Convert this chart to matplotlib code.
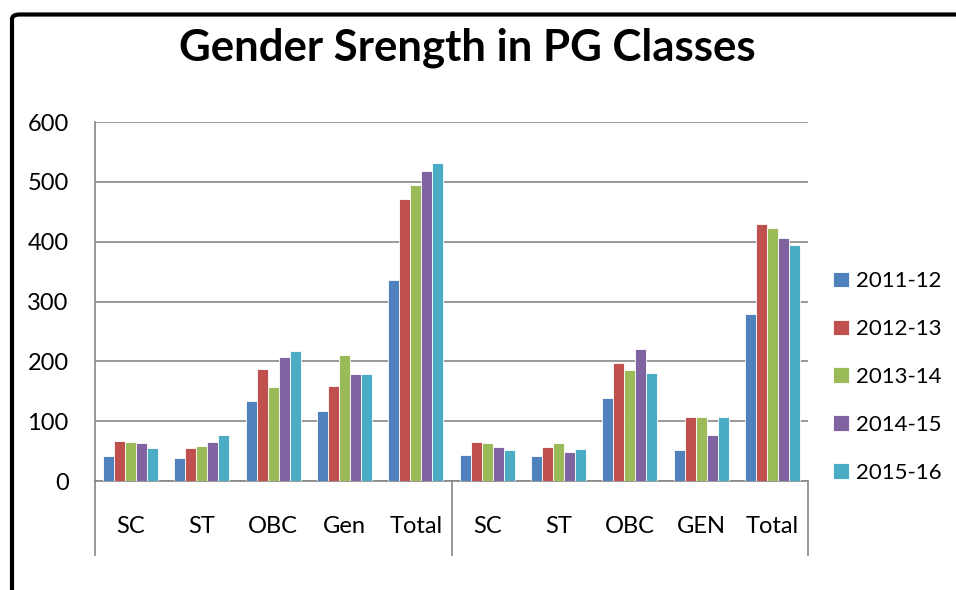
import matplotlib
matplotlib.use("Agg")
import matplotlib.pyplot as plt
from matplotlib.patches import FancyBboxPatch
import matplotlib.transforms as mtransforms
import numpy as np

plt.rcParams['font.family'] = ['Lato', 'DejaVu Sans']

categories = ["SC", "ST", "OBC", "Gen", "Total", "SC", "ST", "OBC", "GEN", "Total"]
series_names = ["2011-12", "2012-13", "2013-14", "2014-15", "2015-16"]
v2011 = [42, 39, 134, 117, 336, 43, 42, 139, 51, 279]
v2012 = [67, 55, 188, 159, 472, 65, 57, 197, 107, 429]
v2013 = [65, 58, 157, 211, 494, 63, 64, 186, 107, 423]
v2014 = [64, 66, 207, 178, 518, 56, 49, 220, 77, 406]
v2015 = [55, 77, 217, 178, 531, 51, 53, 180, 107, 395]
yticks = [0, 100, 200, 300, 400, 500, 600]
title = "Gender Srength in PG Classes"

colors = ["#4F81BD", "#C0504D", "#9BBB59", "#8064A2", "#4BACC6"]
series = [v2011, v2012, v2013, v2014, v2015]

W, H = 956, 590
fig = plt.figure(figsize=(W / 100, H / 100), dpi=100)

# outer chart border
border = FancyBboxPatch((12 / W, -0.1), 1.2, (H - 14.5) / H + 0.1,
                        boxstyle="round,pad=0,rounding_size=0.008",
                        transform=fig.transFigure, fill=False,
                        edgecolor="black", linewidth=3.0, zorder=10)
fig.patches.append(border)

ax = fig.add_axes([95 / W, (H - 481) / H, (808 - 95) / W, (481 - 122) / H])

x = np.arange(len(categories))
bw = 0.154
for i, (vals, c, name) in enumerate(zip(series, colors, series_names)):
    ax.bar(x + (i - 2) * bw, vals, width=bw, color=c, edgecolor="white",
           linewidth=0.6, label=name, zorder=3)

ax.set_xlim(-0.5, len(categories) - 0.5)
ax.set_ylim(0, 600)
ax.set_yticks(yticks)
ax.set_yticklabels([str(t) for t in yticks], fontsize=17)
ax.yaxis.grid(True, color="#868686", linewidth=1.2, zorder=0)
ax.set_axisbelow(True)
ax.tick_params(axis="y", length=0, pad=19)
ax.set_xticks(x)
ax.set_xticklabels(categories, fontsize=17)
ax.tick_params(axis="x", length=0, pad=25)

for s in ["top", "right"]:
    ax.spines[s].set_visible(False)
ax.spines["left"].set_color("#868686")
ax.spines["left"].set_linewidth(1.2)
ax.spines["bottom"].set_color("#868686")
ax.spines["bottom"].set_linewidth(1.2)

# group separators on category axis
trans = mtransforms.blended_transform_factory(ax.transData, ax.transAxes)
ext = -(555 - 481) / (481 - 122)
for xs in [-0.5, 4.5, 9.5]:
    ax.plot([xs, xs], [0, ext], transform=trans, color="#868686",
            linewidth=1.2, clip_on=False, zorder=4)

fig.text(467 / W, (H - 61) / H, title, fontsize=31.5, fontweight="bold",
         ha="center", va="baseline")

leg = fig.legend(loc="center left", bbox_to_anchor=(813 / W, (H - 377) / H),
                 frameon=False, fontsize=16, handlelength=0.7,
                 handleheight=0.7, handletextpad=0.35, labelspacing=1.25)

fig.savefig("out.png", dpi=100)
